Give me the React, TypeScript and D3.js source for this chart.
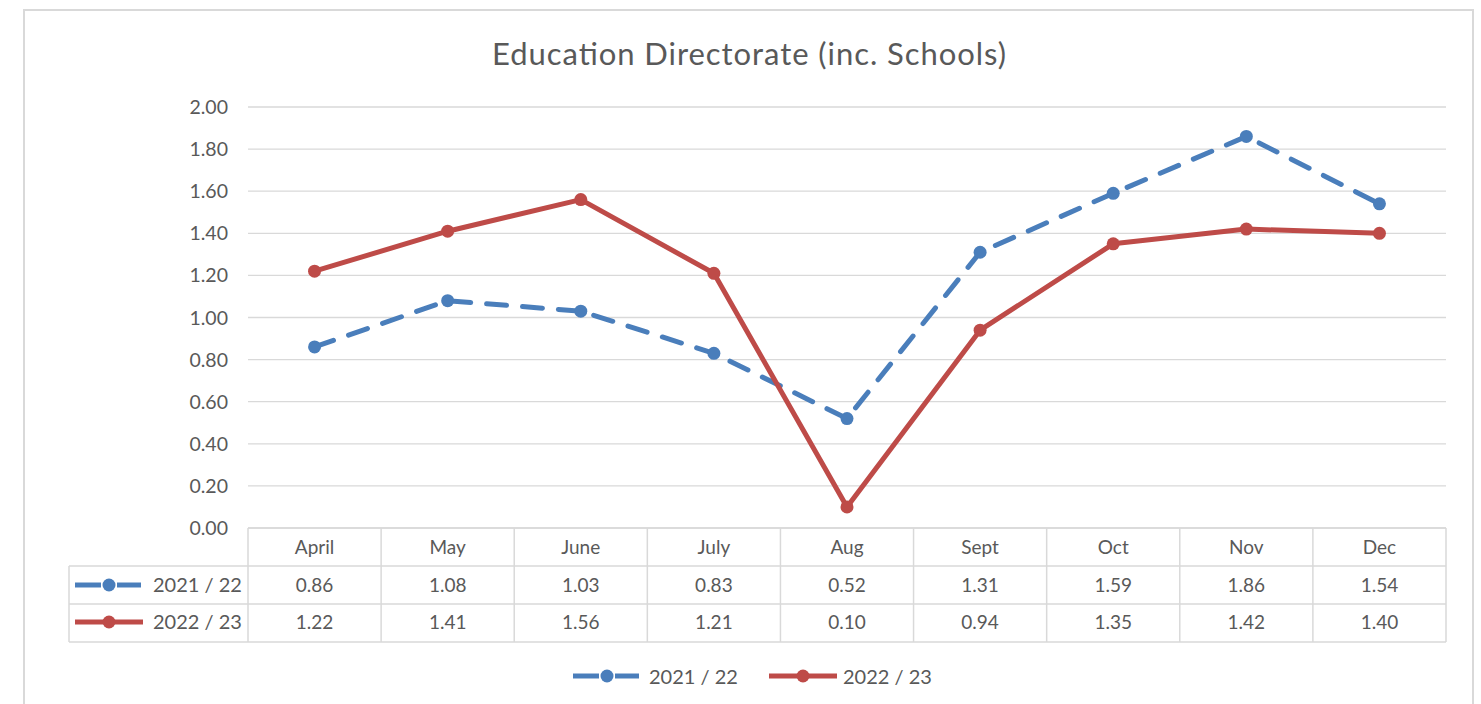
import React, { useEffect, useRef } from "react";
import * as d3 from "d3";

const months = ["April", "May", "June", "July", "Aug", "Sept", "Oct", "Nov", "Dec"];
const series2021 = [0.86, 1.08, 1.03, 0.83, 0.52, 1.31, 1.59, 1.86, 1.54];
const series2022 = [1.22, 1.41, 1.56, 1.21, 0.1, 0.94, 1.35, 1.42, 1.4];
const seriesNames = ["2021 / 22", "2022 / 23"];
const yTicks = [0, 0.2, 0.4, 0.6, 0.8, 1.0, 1.2, 1.4, 1.6, 1.8, 2.0];
const title = "Education Directorate (inc. Schools)";

const W = 1481;
const H = 704;
const FONT = "Lato, 'Open Sans', sans-serif";
const TEXT = "#595959";
const GRID = "#d9d9d9";
const COLORS = ["#4a7ebb", "#be4b48"];

export default function App() {
  const ref = useRef<SVGSVGElement>(null);

  useEffect(() => {
    const svg = d3.select(ref.current);
    svg.selectAll("*").remove();

    const x0 = 248, x1 = 1446, yTop = 107, yBot = 528;
    const x = d3.scaleBand<string>().domain(months).range([x0, x1]);
    const y = d3.scaleLinear().domain([0, 2]).range([yBot, yTop]);
    const cx = (i: number) => x(months[i])! + x.bandwidth() / 2;

    // outer border
    svg.append("rect").attr("x", 24).attr("y", 10).attr("width", 1449).attr("height", 720)
      .attr("fill", "white").attr("stroke", "#d9d9d9").attr("stroke-width", 2);

    // title
    svg.append("text").attr("x", 749).attr("y", 65).attr("text-anchor", "middle")
      .attr("font-family", FONT).attr("font-size", 31).attr("fill", TEXT)
      .attr("textLength", 514).attr("lengthAdjust", "spacing").text(title);

    // gridlines
    const g = svg.append("g");
    g.selectAll("line.grid").data(yTicks).join("line")
      .attr("x1", x0).attr("x2", x1)
      .attr("y1", (d) => y(d)).attr("y2", (d) => y(d))
      .attr("stroke", GRID).attr("stroke-width", 1.3);
    g.selectAll("text.tick").data(yTicks).join("text")
      .attr("x", 228).attr("y", (d) => y(d) + 7).attr("text-anchor", "end")
      .attr("font-family", FONT).attr("font-size", 19.5).attr("fill", TEXT)
      .text((d) => d3.format(".2f")(d));

    // table
    const rowTops = [528, 566, 604, 642];
    const tleft = 69;
    const tg = svg.append("g").attr("stroke", GRID).attr("stroke-width", 1.5);
    tg.append("line").attr("x1", x0).attr("x2", x1).attr("y1", rowTops[0]).attr("y2", rowTops[0]);
    [1, 2, 3].forEach((i) => {
      tg.append("line").attr("x1", tleft).attr("x2", x1).attr("y1", rowTops[i]).attr("y2", rowTops[i]);
    });
    tg.append("line").attr("x1", tleft).attr("x2", tleft).attr("y1", rowTops[1]).attr("y2", rowTops[3]);
    const vx = months.map((m) => x(m)!).concat([x1]);
    vx.forEach((vv) => {
      tg.append("line").attr("x1", vv).attr("x2", vv).attr("y1", rowTops[0]).attr("y2", rowTops[3]);
    });

    const cellText = (tx: number, ty: number, s: string, anchor = "middle") =>
      svg.append("text").attr("x", tx).attr("y", ty).attr("text-anchor", anchor)
        .attr("font-family", FONT).attr("font-size", 19).attr("fill", TEXT).text(s);

    months.forEach((m, i) => cellText(cx(i), 554, m));
    [series2021, series2022].forEach((s, si) => {
      s.forEach((v, i) => cellText(cx(i), 592 + si * 37, d3.format(".2f")(v)));
    });

    const legendSample = (lx: number, ly: number, si: number) => {
      const gg = svg.append("g").attr("stroke", COLORS[si]).attr("stroke-width", 5);
      if (si === 0) {
        gg.append("line").attr("x1", lx).attr("x2", lx + 26).attr("y1", ly).attr("y2", ly);
        gg.append("line").attr("x1", lx + 42).attr("x2", lx + 66).attr("y1", ly).attr("y2", ly);
      } else {
        gg.append("line").attr("x1", lx).attr("x2", lx + 68).attr("y1", ly).attr("y2", ly);
      }
      gg.append("circle").attr("cx", lx + 34).attr("cy", ly).attr("r", 6.5)
        .attr("fill", COLORS[si]).attr("stroke", "none");
    };
    const legendText = (tx: number, ty: number, s: string) =>
      svg.append("text").attr("x", tx).attr("y", ty)
        .attr("font-family", FONT).attr("font-size", 20).attr("fill", TEXT).text(s);

    legendSample(75, 585, 0);
    legendSample(75, 622, 1);
    legendText(153, 592, seriesNames[0]);
    legendText(153, 629, seriesNames[1]);

    // lines
    const line = d3.line<number>().x((_, i) => cx(i)).y((d) => y(d));
    [series2021, series2022].forEach((s, si) => {
      svg.append("path").attr("d", line(s)!).attr("fill", "none")
        .attr("stroke", COLORS[si]).attr("stroke-width", 5)
        .attr("stroke-linejoin", "round")
        .attr("stroke-linecap", si === 0 ? "round" : "butt")
        .attr("stroke-dasharray", si === 0 ? "20 16" : null);
      svg.selectAll(null).data(s).join("circle")
        .attr("cx", (_, i) => cx(i))
        .attr("cy", (d) => y(d)).attr("r", 6.5).attr("fill", COLORS[si]);
    });

    // bottom legend
    legendSample(573, 676, 0);
    legendText(649, 684, seriesNames[0]);
    legendSample(769, 676, 1);
    legendText(843, 684, seriesNames[1]);
  }, []);

  return (
    <div style={{ position: "absolute", left: 0, top: 0 }}>
      <svg ref={ref} width={W} height={H} style={{ display: "block", background: "white" }} />
    </div>
  );
}
